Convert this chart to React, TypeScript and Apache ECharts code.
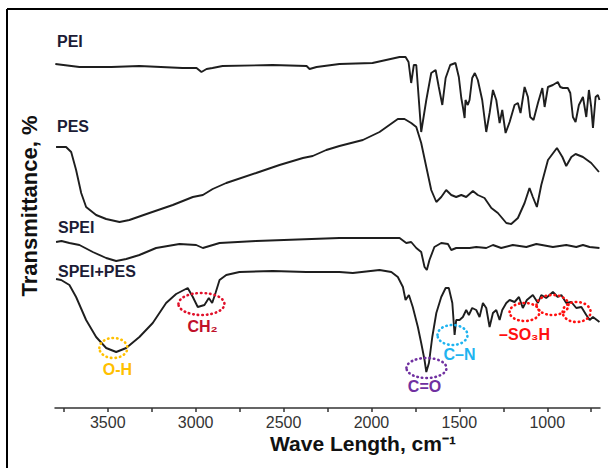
import React, { useEffect, useRef } from "react";
import * as echarts from "echarts";

// ---- data (wavenumber cm-1, relative transmittance offset) ----
const peiWave = [3798, 3661, 3479, 3320, 3075, 2995, 2967, 2938, 2904, 2847, 2563, 2369, 2352, 2312, 2182, 1994, 1840, 1806, 1789, 1774, 1759, 1745, 1717, 1688, 1660, 1635, 1617, 1597, 1578, 1552, 1522, 1503, 1489, 1480, 1470, 1465, 1452, 1442, 1427, 1412, 1395, 1370, 1347, 1328, 1309, 1290, 1271, 1256, 1237, 1214, 1186, 1167, 1152, 1129, 1110, 1097, 1078, 1053, 1028, 1015, 996, 968, 940, 926, 911, 883, 869, 854, 839, 820, 797, 778, 763, 750, 740, 725, 712, 703];
const peiT = [344, 341, 341, 342, 340, 340, 336, 339, 340, 342, 343, 342, 339, 341, 344, 345, 351, 351, 346, 325, 343, 343, 276, 308, 335, 338, 321, 303, 330, 343, 345, 331, 310, 301, 290, 308, 303, 308, 330, 335, 328, 308, 276, 295, 318, 308, 285, 298, 275, 286, 303, 305, 295, 321, 311, 291, 288, 305, 320, 301, 321, 323, 326, 321, 320, 320, 315, 291, 286, 303, 311, 291, 318, 301, 280, 311, 313, 308];

const pesWave = [3794, 3737, 3708, 3680, 3651, 3623, 3566, 3509, 3433, 3377, 3263, 3130, 3016, 2959, 2903, 2826, 2656, 2523, 2390, 2334, 2257, 2182, 2049, 1954, 1850, 1812, 1774, 1745, 1717, 1688, 1660, 1631, 1603, 1575, 1546, 1518, 1489, 1461, 1423, 1395, 1357, 1318, 1281, 1233, 1205, 1167, 1129, 1101, 1082, 1059, 1034, 996, 945, 914, 892, 863, 839, 797, 750, 706];
const pesT = [261, 261, 256, 238, 215, 201, 193, 189, 186, 188, 195, 203, 211, 213, 219, 225, 235, 243, 250, 252, 258, 262, 268, 276, 289, 289, 285, 281, 265, 241, 218, 206, 211, 218, 213, 211, 213, 211, 217, 213, 210, 200, 195, 185, 184, 190, 205, 220, 211, 201, 223, 248, 260, 251, 242, 251, 254, 251, 245, 236];

const speiWave = [3794, 3763, 3718, 3661, 3585, 3509, 3452, 3395, 3320, 3225, 3092, 2997, 2959, 2921, 2864, 2656, 2182, 1840, 1802, 1774, 1745, 1717, 1698, 1685, 1670, 1642, 1603, 1565, 1546, 1518, 1442, 1404, 1347, 1309, 1262, 1196, 1119, 1062, 968, 892, 835, 797, 759, 703];
const speiT = [166, 167, 165, 163, 156, 150, 147, 149, 153, 160, 164, 163, 160, 162, 165, 167, 170, 170, 165, 166, 160, 156, 141, 138, 148, 161, 165, 164, 158, 160, 160, 161, 160, 163, 160, 163, 161, 164, 161, 163, 161, 163, 161, 160];

const blendWave = [3794, 3765, 3718, 3680, 3623, 3566, 3509, 3452, 3395, 3320, 3244, 3168, 3111, 3045, 3016, 2988, 2950, 2925, 2906, 2887, 2864, 2826, 2751, 2561, 2371, 2182, 2106, 1954, 1887, 1850, 1821, 1806, 1787, 1765, 1736, 1717, 1698, 1688, 1673, 1654, 1631, 1603, 1578, 1560, 1540, 1527, 1518, 1499, 1480, 1461, 1446, 1427, 1404, 1385, 1366, 1347, 1328, 1309, 1290, 1271, 1256, 1233, 1214, 1186, 1161, 1139, 1116, 1082, 1053, 1034, 1006, 968, 940, 920, 892, 863, 835, 806, 778, 759, 740, 703];
const blendT = [129, 128, 123, 111, 88, 71, 60, 56, 60, 71, 85, 105, 114, 120, 111, 101, 103, 110, 105, 115, 128, 133, 136, 137, 136, 136, 135, 138, 136, 131, 121, 108, 113, 101, 81, 65, 48, 36, 45, 71, 95, 111, 120, 120, 105, 73, 88, 88, 91, 98, 93, 100, 98, 91, 105, 100, 81, 95, 98, 88, 98, 105, 108, 106, 111, 100, 108, 113, 105, 113, 110, 116, 111, 113, 105, 106, 100, 101, 93, 88, 91, 86];

const seriesNames = ["PEI", "PES", "SPEI", "SPEI+PES"];

// annotation ellipses (centre in data units)
const ringWave = [3468, 2967, 1687, 1539, 1129, 970, 833];
const ringT = [60, 104, 40, 73, 96, 103, 96];
// annotation texts
const noteText = ["O-H", "CH\u2082", "C=O", "C\u2013N", "\u2013SO\u2083H"];
const noteWave = [3445, 2961, 1698, 1499, 1129];
const noteT = [39, 82, 22, 54, 74];

const xTickValues = [750, 1000, 1250, 1500, 1750, 2000, 2250, 2500, 2750, 3000, 3250, 3500, 3750];
const xLabelValues = [1000, 1500, 2000, 2500, 3000, 3500];

// ---- styles ----
const ringStyle = [
  { rx: 14, ry: 10, color: "#FFC000" },
  { rx: 23, ry: 11, color: "#E0102A" },
  { rx: 20, ry: 10, color: "#7030A0" },
  { rx: 15, ry: 10, color: "#1FB4F0" },
  { rx: 15, ry: 9, color: "#FF1010" },
  { rx: 16, ry: 10, color: "#FF1010" },
  { rx: 14, ry: 10, color: "#FF1010" },
];
const noteColor = ["#FFC000", "#C0102A", "#7030A0", "#1FB4F0", "#FF1010"];

const FONT = "'Liberation Sans', Arial, sans-serif";

function pairs(w: number[], t: number[]) {
  return w.map((v, i) => [v, t[i]]);
}

export default function App() {
  const ref = useRef<HTMLDivElement>(null);
  useEffect(() => {
    if (!ref.current) return;
    const chart = echarts.init(ref.current, undefined, { renderer: "svg" });
    const lineSeries = [pairs(peiWave, peiT), pairs(pesWave, pesT), pairs(speiWave, speiT), pairs(blendWave, blendT)].map(
      (d, i) => ({
        name: seriesNames[i],
        type: "line",
        data: d,
        showSymbol: false,
        smooth: false,
        lineStyle: { color: "#1e1e1e", width: 1.9 },
        z: 3,
      })
    );
    const option: any = {
      animation: false,
      backgroundColor: "#ffffff",
      grid: { left: 55, right: 8, top: 20, bottom: 60 },
      xAxis: {
        type: "value",
        min: 700,
        max: 3800,
        inverse: true,
        axisLine: { show: true, lineStyle: { color: "#333", width: 1.5 } },
        axisTick: { show: true, customValues: xTickValues, length: 4, lineStyle: { color: "#333", width: 1.5 } },
        axisLabel: {
          customValues: xLabelValues,
          formatter: (v: number) => String(v),
          color: "#333",
          fontSize: 16,
          fontFamily: FONT,
          margin: 6,
        },
        splitLine: { show: false },
      },
      yAxis: {
        type: "value",
        min: 0,
        max: 388,
        axisLine: { show: false },
        axisTick: { show: false },
        axisLabel: { show: false },
        splitLine: { show: false },
      },
      series: [
        ...lineSeries,
        {
          type: "custom",
          name: "rings",
          data: pairs(ringWave, ringT),
          z: 5,
          renderItem: (params: any, api: any) => {
            const p = api.coord([api.value(0), api.value(1)]);
            const s = ringStyle[params.dataIndex];
            return {
              type: "ellipse",
              shape: { cx: p[0], cy: p[1], rx: s.rx, ry: s.ry },
              style: { fill: "none", stroke: s.color, lineWidth: 2.6, lineDash: [0.5, 4], lineCap: "round" },
            };
          },
        },
        {
          type: "custom",
          name: "notes",
          data: pairs(noteWave, noteT),
          z: 6,
          renderItem: (params: any, api: any) => {
            const p = api.coord([api.value(0), api.value(1)]);
            return {
              type: "text",
              x: p[0],
              y: p[1],
              style: {
                text: noteText[params.dataIndex],
                fill: noteColor[params.dataIndex],
                font: `bold 16px ${FONT}`,
                align: "center",
                verticalAlign: "middle",
              },
            };
          },
        },
      ],
      graphic: [
        { type: "line", shape: { x1: 7, y1: 9, x2: 608, y2: 9 }, style: { stroke: "#000", lineWidth: 2 } },
        { type: "line", shape: { x1: 7, y1: 9, x2: 7, y2: 468 }, style: { stroke: "#000", lineWidth: 2 } },
        {
          type: "text",
          x: 29,
          y: 206,
          rotation: Math.PI / 2,
          style: { text: "Transmittance, %", font: `bold 22px ${FONT}`, fill: "#111", align: "center", verticalAlign: "middle" },
        },
        {
          type: "text",
          x: 363,
          y: 443,
          style: { text: "Wave Length, cm\u207B\u00B9", font: `bold 21px ${FONT}`, fill: "#111", align: "center", verticalAlign: "middle" },
        },
        { type: "text", x: 57, y: 41, style: { text: "PEI", font: `bold 16px ${FONT}`, fill: "#1c1c36", verticalAlign: "middle" } },
        { type: "text", x: 57, y: 126, style: { text: "PES", font: `bold 16px ${FONT}`, fill: "#1c1c36", verticalAlign: "middle" } },
        { type: "text", x: 58, y: 227, style: { text: "SPEI", font: `bold 16px ${FONT}`, fill: "#1c1c36", verticalAlign: "middle" } },
        { type: "text", x: 58, y: 271, style: { text: "SPEI+PES", font: `bold 16px ${FONT}`, fill: "#1c1c36", verticalAlign: "middle" } },
      ],
    };
    chart.setOption(option);
    return () => chart.dispose();
  }, []);
  return <div ref={ref} style={{ position: "fixed", left: 0, top: 0, width: 608, height: 468 }} />;
}
